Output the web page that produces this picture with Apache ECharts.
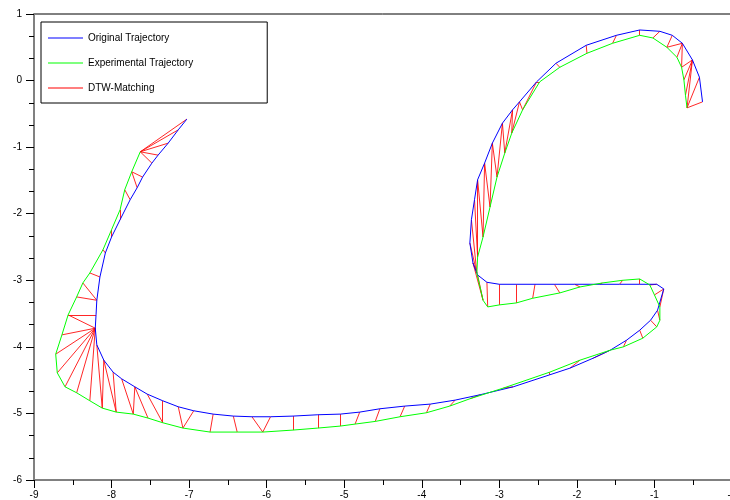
<!DOCTYPE html>
<html>
<head>
<meta charset="utf-8">
<script src="https://cdn.jsdelivr.net/npm/echarts@6/dist/echarts.min.js"></script>
<style>
  html, body { margin: 0; padding: 0; background: #fff; }
  #main { width: 730px; height: 500px; }
</style>
</head>
<body>
<div id="main"></div>
<script>
// tick labels as printed on the plot
var xTickLabels = ['-9', '-8', '-7', '-6', '-5', '-4', '-3', '-2', '-1', '-0']
var yTickLabels = ['-6', '-5', '-4', '-3', '-2', '-1', '0', '1']

// original trajectory (blue)
var originalXY = [
  [-7.03, -0.58], [-7.14, -0.74], [-7.27, -0.94], [-7.40, -1.12], [-7.48, -1.24],
  [-7.60, -1.45], [-7.67, -1.61], [-7.76, -1.79], [-7.89, -2.09], [-8.00, -2.35],
  [-8.08, -2.59], [-8.15, -2.95], [-8.19, -3.30], [-8.20, -3.52], [-8.21, -3.72],
  [-8.19, -3.97], [-8.10, -4.20], [-7.98, -4.38], [-7.87, -4.48], [-7.70, -4.60],
  [-7.54, -4.71], [-7.34, -4.81], [-7.14, -4.90], [-6.94, -4.96], [-6.69, -5.01],
  [-6.43, -5.04], [-6.19, -5.05], [-5.95, -5.05], [-5.66, -5.04], [-5.34, -5.02],
  [-5.05, -5.01], [-4.80, -4.98], [-4.54, -4.93], [-4.22, -4.89], [-3.89, -4.86],
  [-3.57, -4.80], [-3.25, -4.72], [-2.82, -4.60], [-2.35, -4.42], [-2.09, -4.32],
  [-1.79, -4.17], [-1.57, -4.05], [-1.36, -3.90], [-1.19, -3.75], [-1.05, -3.60],
  [-0.96, -3.45], [-0.88, -3.13], [-0.97, -3.06], [-1.19, -3.06], [-1.45, -3.06],
  [-1.71, -3.06], [-2.03, -3.06], [-2.29, -3.06], [-2.54, -3.06], [-2.78, -3.06],
  [-3.00, -3.06], [-3.16, -3.03], [-3.28, -2.92], [-3.34, -2.74], [-3.38, -2.44],
  [-3.36, -2.09], [-3.32, -1.79], [-3.28, -1.49], [-3.19, -1.24], [-3.09, -0.94],
  [-2.96, -0.64], [-2.83, -0.44], [-2.74, -0.32], [-2.52, -0.02], [-2.27, 0.26],
  [-1.88, 0.53], [-1.49, 0.68], [-1.19, 0.76], [-0.93, 0.74], [-0.77, 0.68],
  [-0.64, 0.56], [-0.51, 0.31], [-0.42, 0.05], [-0.38, -0.32]
]

// experimental trajectory (green)
var experimentalXY = [
  [-7.63, -1.07], [-7.74, -1.37], [-7.83, -1.64], [-7.89, -1.94], [-8.00, -2.24],
  [-8.11, -2.54], [-8.28, -2.89], [-8.37, -3.04], [-8.45, -3.25], [-8.56, -3.52],
  [-8.64, -3.82], [-8.72, -4.11], [-8.70, -4.39], [-8.60, -4.60], [-8.45, -4.69],
  [-8.28, -4.81], [-8.12, -4.92], [-7.94, -4.98], [-7.72, -5.01], [-7.53, -5.07],
  [-7.34, -5.14], [-7.08, -5.22], [-6.73, -5.28], [-6.38, -5.28], [-6.05, -5.28],
  [-5.66, -5.25], [-5.34, -5.22], [-5.05, -5.19], [-4.86, -5.16], [-4.60, -5.12],
  [-4.28, -5.05], [-3.94, -4.99], [-3.64, -4.89], [-3.38, -4.78], [-2.95, -4.62],
  [-2.35, -4.38], [-1.96, -4.20], [-1.57, -4.05], [-1.40, -4.00], [-1.15, -3.87],
  [-0.97, -3.70], [-0.93, -3.60], [-0.93, -3.40], [-1.00, -3.22], [-1.06, -3.07],
  [-1.19, -2.98], [-1.41, -3.00], [-1.67, -3.04], [-1.96, -3.10], [-2.22, -3.19],
  [-2.57, -3.27], [-2.78, -3.34], [-3.00, -3.37], [-3.15, -3.40], [-3.21, -3.30],
  [-3.29, -2.89], [-3.28, -2.65], [-3.21, -2.35], [-3.12, -1.90], [-3.03, -1.45],
  [-2.93, -1.09], [-2.84, -0.79], [-2.70, -0.44], [-2.48, -0.02], [-2.22, 0.20],
  [-1.87, 0.41], [-1.54, 0.56], [-1.19, 0.68], [-1.02, 0.64], [-0.84, 0.50],
  [-0.71, 0.35], [-0.65, 0.20], [-0.62, 0.01], [-0.60, -0.22], [-0.58, -0.41]
]

// DTW matching: [index in original, index in experimental]
var dtwPairs = [
  [0, 0], [1, 0], [2, 0], [3, 0], [4, 0], [5, 1], [6, 1], [7, 2], [8, 3], [9, 4],
  [10, 5], [11, 6], [12, 7], [12, 8], [13, 9],
  [14, 9], [14, 10], [14, 11], [14, 12], [14, 13], [14, 14], [14, 15],
  [15, 16], [16, 16], [16, 17], [17, 17], [18, 18], [19, 18], [19, 19], [20, 20],
  [21, 20], [22, 21], [23, 21], [24, 22], [25, 23], [26, 24], [27, 24], [28, 25],
  [29, 26], [30, 27], [31, 28], [32, 29], [33, 30], [34, 31], [35, 32], [36, 33],
  [37, 34], [38, 35], [39, 36], [40, 37], [41, 37], [42, 38], [43, 39], [44, 40],
  [45, 41], [46, 42], [46, 43], [47, 44], [48, 45], [49, 46], [50, 47], [51, 48],
  [52, 49], [53, 50], [54, 51], [55, 52], [56, 53], [57, 54], [58, 54], [58, 55],
  [59, 55], [60, 55], [61, 56], [62, 56], [62, 57], [63, 57], [63, 58], [64, 58],
  [64, 59], [65, 59], [65, 60], [66, 60], [66, 61], [67, 61], [67, 62], [68, 62],
  [68, 63], [69, 64], [70, 65], [71, 66], [72, 67], [73, 68], [74, 69], [75, 69],
  [75, 70], [75, 71], [76, 71], [76, 72], [76, 73], [76, 74], [77, 74], [78, 74]
]

var chart = echarts.init(document.getElementById('main'))

var matchLines = dtwPairs.map(function (p) {
  return { coords: [originalXY[p[0]], experimentalXY[p[1]]] }
})

var axisCommon = {
  type: 'value',
  splitLine: { show: false },
  axisLine: { show: true, onZero: false, lineStyle: { color: '#808080', width: 2 } },
  axisTick: { show: true, length: 8, lineStyle: { color: '#000' } },
  minorSplitLine: { show: false },
  axisLabel: { color: '#000', fontSize: 10, fontFamily: 'Liberation Sans' }
}

var option = {
  animation: false,
  color: ['#0000ff', '#00ff00', '#ff0000'],
  grid: {
    left: 34, top: 14, width: 698, height: 466,
    outerBoundsMode: 'none',
    show: true, borderColor: '#000', borderWidth: 1
  },
  legend: {
    orient: 'vertical',
    left: 41, top: 22,
    padding: [10, 74, 9, 7],
    itemGap: 13,
    itemWidth: 35, itemHeight: 1,
    icon: 'rect',
    itemStyle: { borderWidth: 0 },
    backgroundColor: '#fff',
    borderColor: '#000', borderWidth: 1,
    textStyle: { color: '#000', fontSize: 10, lineHeight: 12, fontFamily: 'Liberation Sans' },
    data: ['Original Trajectory', 'Experimental Trajectory', 'DTW-Matching']
  },
  xAxis: Object.assign({}, axisCommon, {
    min: -9, max: 0, interval: 1,
    minorTick: { show: true, splitNumber: 2, length: 5, lineStyle: { color: '#000' } },
    axisLabel: Object.assign({}, axisCommon.axisLabel, {
      margin: 10,
      formatter: function (v) { return xTickLabels[Math.round(v + 9)] }
    })
  }),
  yAxis: Object.assign({}, axisCommon, {
    min: -6, max: 1, interval: 1,
    minorTick: { show: true, splitNumber: 3, length: 5, lineStyle: { color: '#000' } },
    axisLabel: Object.assign({}, axisCommon.axisLabel, {
      margin: 12,
      formatter: function (v) { return yTickLabels[Math.round(v + 6)] }
    })
  }),
  series: [
    {
      name: 'Original Trajectory',
      type: 'line',
      data: originalXY,
      symbol: 'none',
      lineStyle: { color: '#0000ff', width: 1 },
      itemStyle: { color: '#0000ff' },
      z: 3
    },
    {
      name: 'Experimental Trajectory',
      type: 'line',
      data: experimentalXY,
      symbol: 'none',
      lineStyle: { color: '#00ff00', width: 1 },
      itemStyle: { color: '#00ff00' },
      z: 3
    },
    {
      name: 'DTW-Matching',
      type: 'lines',
      coordinateSystem: 'cartesian2d',
      data: matchLines,
      lineStyle: { color: '#ff0000', width: 1, opacity: 0.85 },
      itemStyle: { color: '#ff0000', borderWidth: 0 },
      z: 2
    }
  ]
}

chart.setOption(option)
</script>
</body>
</html>
